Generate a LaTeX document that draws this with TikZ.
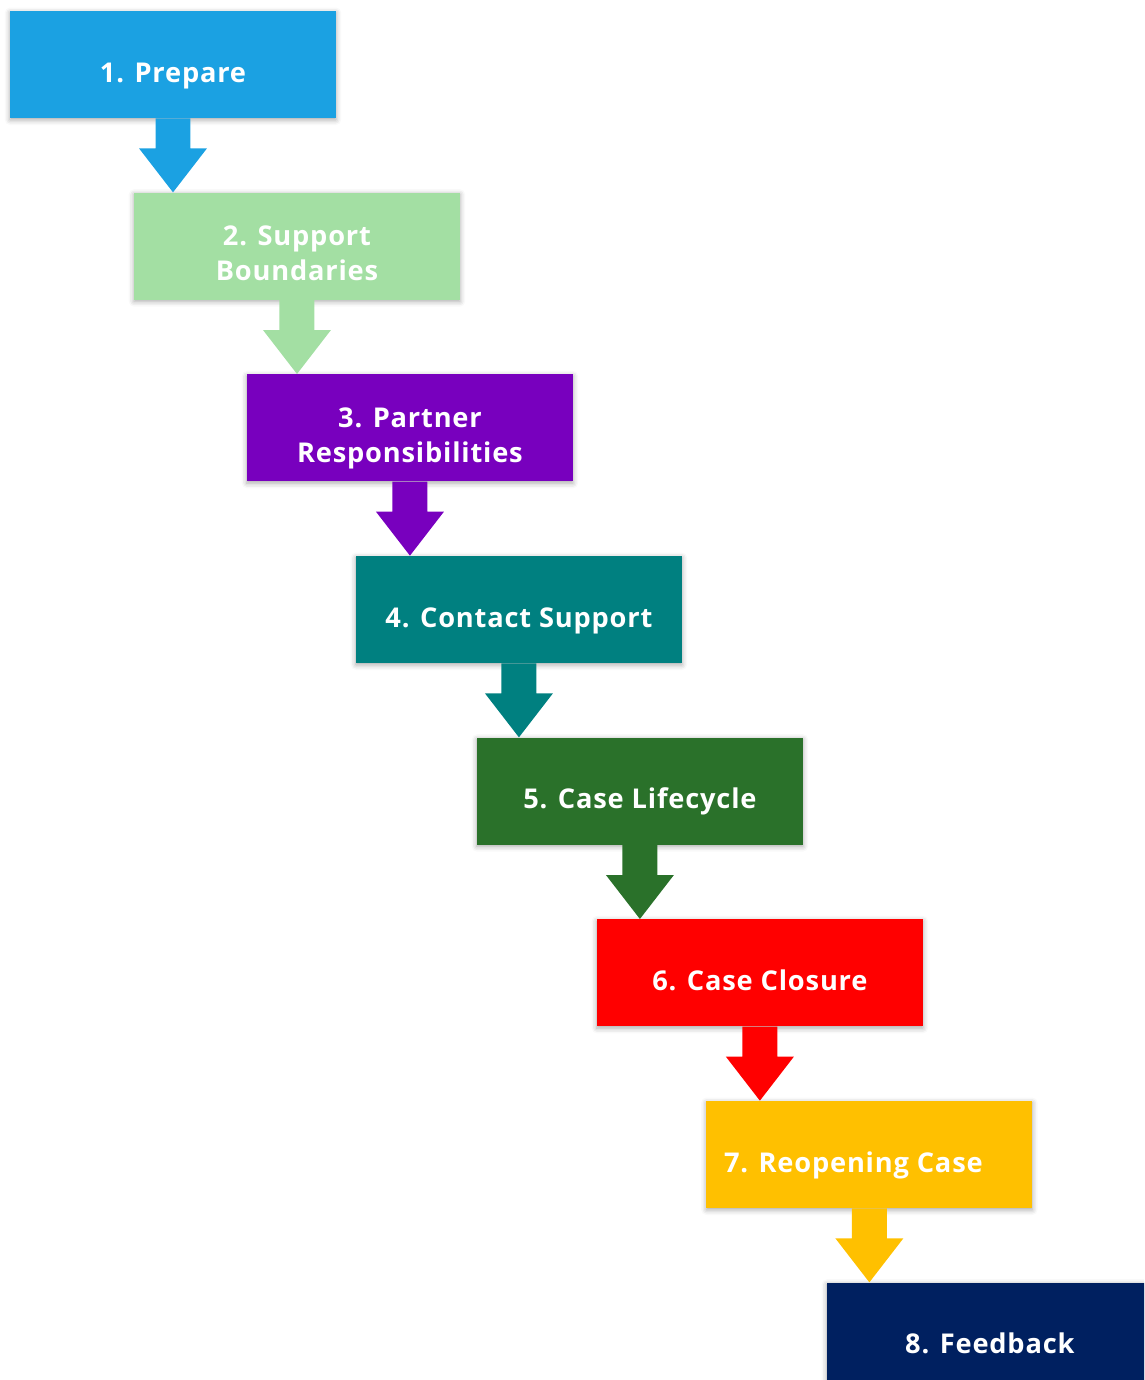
\documentclass[tikz,border=0pt]{standalone}
\usepackage{fontspec}
\setmainfont{Open Sans}[LetterSpace=3]
\usepackage{xcolor}
\usepackage{tikz}
\usetikzlibrary{positioning, calc, shadows.blur}

\definecolor{prepblue}{HTML}{1BA1E2}
\definecolor{bndgreen}{HTML}{A3DFA3}
\definecolor{ptnpurple}{HTML}{7800BE}
\definecolor{ctcteal}{HTML}{008080}
\definecolor{lifegreen}{HTML}{2A712A}
\definecolor{closered}{HTML}{FF0000}
\definecolor{reopyellow}{HTML}{FFC000}
\definecolor{fbnavy}{HTML}{002060}

\begin{document}
\begin{tikzpicture}[
  x=0.02cm, y=-0.02cm,
  stepbox/.style={minimum width=6.52cm, minimum height=2.14cm,
                  inner sep=0pt, align=center, text=white,
                  font=\fontsize{15.5}{19.8}\selectfont\bfseries,
                  text height=0.7cm, text depth=0pt,
                  blur shadow={shadow xshift=0pt, shadow yshift=-1pt,
                               shadow blur radius=3pt, shadow opacity=35}},
  twoline/.style={text height=1.38cm},
  blockarr/.style={to path={let \p1=(\tikztostart), \p2=(\tikztotarget) in
      (\x1-0.35cm,\y1) -- (\x1-0.35cm,\y2+0.88cm) -- (\x1-0.68cm,\y2+0.88cm)
      -- (\x1,\y2) -- (\x1+0.68cm,\y2+0.88cm) -- (\x1+0.35cm,\y2+0.88cm)
      -- (\x1+0.35cm,\y1) -- cycle}},
  node distance=1.48cm
]
\useasboundingbox (0,0) rectangle (1144,1380);
\clip (0,0) rectangle (1144,1380);

\node[stepbox, fill=prepblue] (prep) at (173,64.5) {1. Prepare};
\node[stepbox, twoline, fill=bndgreen, below=of prep, xshift=2.48cm] (bnd)
    {2. Support\\Boundaries};
\node[stepbox, twoline, fill=ptnpurple, below=of bnd, xshift=2.26cm] (ptn)
    {3. Partner\\Responsibilities};
\node[stepbox, fill=ctcteal, below=of ptn, xshift=2.18cm] (ctc)
    {4. Contact Support};
\node[stepbox, fill=lifegreen, below=of ctc, xshift=2.42cm] (life)
    {5. Case Lifecycle};
\node[stepbox, fill=closered, below=of life, xshift=2.40cm] (close)
    {6. Case Closure};
\node[stepbox, fill=reopyellow, below=of close, xshift=2.19cm] (reop)
    {7. Reopening Case\hspace*{0.64cm}};
\node[stepbox, fill=fbnavy, below=of reop, xshift=2.41cm] (fb)
    {8. Feedback};

% arrows between the steps
\fill[prepblue]   (prep.south)  to[blockarr] (bnd.north);
\fill[bndgreen]   (bnd.south)   to[blockarr] (ptn.north);
\fill[ptnpurple]  (ptn.south)   to[blockarr] (ctc.north);
\fill[ctcteal]    (ctc.south)   to[blockarr] (life.north);
\fill[lifegreen]  (life.south)  to[blockarr] (close.north);
\fill[closered]   (close.south) to[blockarr] (reop.north);
\fill[reopyellow] (reop.south)  to[blockarr] (fb.north);
\end{tikzpicture}
\end{document}
